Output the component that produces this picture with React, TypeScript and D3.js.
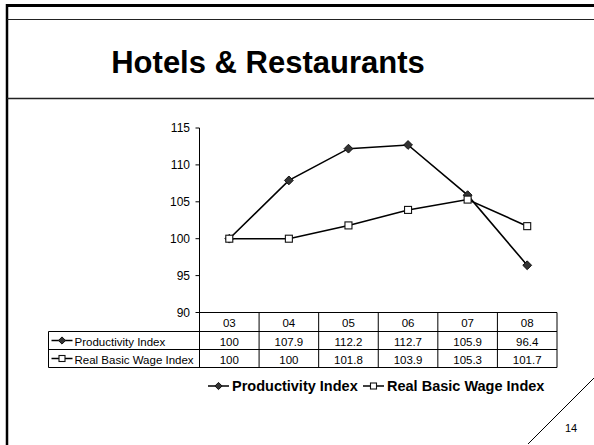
import React from 'react';
import * as d3 from 'd3';

const years = ['03', '04', '05', '06', '07', '08'];
const productivity = [100, 107.9, 112.2, 112.7, 105.9, 96.4];
const realWage = [100, 100, 101.8, 103.9, 105.3, 101.7];
const yTicks = [90, 95, 100, 105, 110, 115];
const seriesNames = ['Productivity Index', 'Real Basic Wage Index'];
const title = 'Hotels & Restaurants';
const slideNo = '14';

const W = 594;
const H = 445;
const FONT = "'Liberation Sans', Arial, Helvetica, sans-serif";

function Diamond({ cx, cy, r = 4.4 }) {
  return (
    <path
      d={`M${cx},${cy - r}L${cx + r},${cy}L${cx},${cy + r}L${cx - r},${cy}Z`}
      fill="#333"
      stroke="#111"
      strokeWidth={1}
    />
  );
}

function Square({ cx, cy, s = 7 }) {
  return (
    <rect x={cx - s / 2} y={cy - s / 2} width={s} height={s} fill="#fff" stroke="#111" strokeWidth={1.1} />
  );
}

function LegendKey({ x, y, kind }) {
  return (
    <g>
      <line x1={x} x2={x + 21} y1={y} y2={y} stroke="#000" strokeWidth={1.5} />
      {kind === 0 ? <Diamond cx={x + 10.5} cy={y} r={3.6} /> : <Square cx={x + 10.5} cy={y} s={6} />}
    </g>
  );
}

export default function App() {
  const x = d3.scaleBand().domain(years).range([199.5, 557]);
  const y = d3.scaleLinear().domain([90, 115]).range([312.5, 128]);
  const cx = (d) => x(d) + x.bandwidth() / 2;

  const line = d3.line().x((d) => cx(d[0])).y((d) => y(d[1]));
  const prodPts = years.map((yr, i) => [yr, productivity[i]]);
  const wagePts = years.map((yr, i) => [yr, realWage[i]]);

  // table rows
  const tableLeft = 48.5;
  const rowY = [312.5, 331.5, 349.5, 367.5];
  const rows = [productivity, realWage];

  return (
    <svg width={W} height={H} style={{ position: 'absolute', left: 0, top: 0, background: '#fff' }} fontFamily={FONT}>
      {/* slide frame */}
      <line x1={6} x2={W} y1={5.5} y2={5.5} stroke="#000" strokeWidth={3} />
      <line x1={7} x2={7} y1={4} y2={H} stroke="#000" strokeWidth={2.5} />
      <line x1={7} x2={W} y1={19.5} y2={19.5} stroke="#222" strokeWidth={1} />
      <line x1={7} x2={W} y1={98.5} y2={98.5} stroke="#222" strokeWidth={1.3} />
      <text x={268} y={73} textAnchor="middle" fontSize={31} fontWeight="bold" fill="#000">{title}</text>

      {/* y axis */}
      <line x1={199.5} x2={199.5} y1={y(115)} y2={rowY[1]} stroke="#000" strokeWidth={1} />
      {yTicks.map((t) => (
        <g key={t}>
          <line x1={195.5} x2={199.5} y1={y(t)} y2={y(t)} stroke="#000" strokeWidth={1} />
          <text x={190} y={y(t) + 4} textAnchor="end" fontSize={12} fill="#000">{t}</text>
        </g>
      ))}

      {/* data table */}
      <line x1={199.5} x2={557} y1={rowY[0]} y2={rowY[0]} stroke="#000" strokeWidth={1.2} />
      {[1, 2, 3].map((i) => (
        <line key={i} x1={tableLeft} x2={557} y1={rowY[i]} y2={rowY[i]} stroke="#000" strokeWidth={1} />
      ))}
      <line x1={tableLeft} x2={tableLeft} y1={rowY[1]} y2={rowY[3]} stroke="#000" strokeWidth={1} />
      <line x1={199.5} x2={199.5} y1={rowY[1]} y2={rowY[3]} stroke="#000" strokeWidth={1} />
      {years.map((yr) => (
        <line key={yr} x1={x(yr) + x.bandwidth()} x2={x(yr) + x.bandwidth()} y1={rowY[0]} y2={rowY[3]} stroke="#000" strokeWidth={1} />
      ))}
      {years.map((yr) => (
        <text key={yr} x={cx(yr)} y={rowY[0] + 14} textAnchor="middle" fontSize={11.5} fill="#000">{yr}</text>
      ))}
      {rows.map((vals, r) => (
        <g key={r}>
          <LegendKey x={51.5} y={(rowY[r + 1] + rowY[r + 2]) / 2} kind={r} />
          <text x={74.5} y={rowY[r + 1] + 14} fontSize={11.5} fill="#000">{seriesNames[r]}</text>
          {years.map((yr, i) => (
            <text key={yr} x={cx(yr)} y={rowY[r + 1] + 14} textAnchor="middle" fontSize={11.5} fill="#000">{vals[i]}</text>
          ))}
        </g>
      ))}

      {/* series */}
      <path d={line(prodPts)} fill="none" stroke="#000" strokeWidth={1.6} />
      <path d={line(wagePts)} fill="none" stroke="#000" strokeWidth={1.6} />
      {prodPts.map(([yr, v]) => <Diamond key={yr} cx={cx(yr)} cy={y(v)} />)}
      {wagePts.map(([yr, v]) => <Square key={yr} cx={cx(yr)} cy={y(v)} />)}

      {/* legend */}
      <LegendKey x={208} y={386} kind={0} />
      <text x={232} y={391} fontSize={14.5} fontWeight="bold" fill="#000">{seriesNames[0]}</text>
      <LegendKey x={363} y={386} kind={1} />
      <text x={387} y={391} fontSize={14.5} fontWeight="bold" fill="#000">{seriesNames[1]}</text>

      {/* page corner */}
      <line x1={594} y1={378} x2={528} y2={444} stroke="#000" strokeWidth={1} />
      <text x={565} y={432} fontSize={11} fill="#000">{slideNo}</text>
    </svg>
  );
}
